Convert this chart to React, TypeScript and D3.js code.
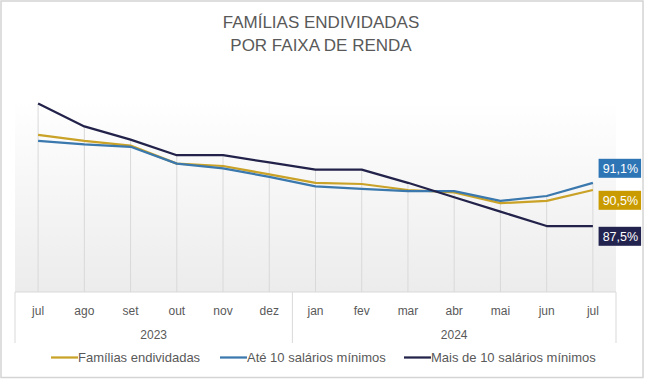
import React from "react";
import * as d3 from "d3";

const months = ["jul", "ago", "set", "out", "nov", "dez", "jan", "fev", "mar", "abr", "mai", "jun", "jul"];
const years = [
  { label: "2023", start: 0, end: 5 },
  { label: "2024", start: 6, end: 12 },
];
const familias = [95.1, 94.6, 94.2, 92.7, 92.5, 91.8, 91.1, 91.0, 90.5, 90.3, 89.4, 89.6, 90.5];
const ate10 = [94.6, 94.3, 94.1, 92.7, 92.3, 91.6, 90.8, 90.6, 90.4, 90.4, 89.6, 90.0, 91.1];
const mais10 = [97.7, 95.8, 94.7, 93.4, 93.4, 92.8, 92.2, 92.2, 91.1, 89.9, 88.7, 87.5, 87.5];

const seriesNames = ["Famílias endividadas", "Até 10 salários mínimos", "Mais de 10 salários mínimos"];
const seriesColors = ["#c9a227", "#3a78ad", "#22224a"];
const labelColors = ["#c99b00", "#2e75b6", "#232350"];
const labelOffsets = [0.8, -24, 0.8];

const W = 645;
const H = 379;
const FONT = "'Liberation Sans', Arial, sans-serif";
const TEXT = "#595959";
const GRID = "#d9d9d9";

export default function App() {
  const data = [familias, ate10, mais10];
  const x = d3.scaleBand<number>().domain(d3.range(months.length)).range([15, 616]).padding(0);
  const cx = (i: number) => (x(i) as number) + x.bandwidth() / 2;
  const y = d3.scaleLinear().domain([82, 98]).range([292, 100]);
  const line = d3
    .line<number>()
    .x((_, i) => cx(i))
    .y((d) => y(d));
  const plotTop = y.range()[1];
  const plotBottom = y.range()[0];
  const [x0, x1] = x.range();
  const sepX = x(years[1].start) as number;

  const legendItems = [
    { lx: 51, tx: 78 },
    { lx: 220, tx: 247 },
    { lx: 404, tx: 431 },
  ];

  return (
    <svg
      width={W}
      height={H}
      style={{ position: "fixed", left: 0, top: 0, background: "#fff" }}
      fontFamily={FONT}
    >
      <defs>
        <linearGradient id="plotGrad" x1="0" y1="0" x2="0" y2="1">
          <stop offset="0%" stopColor="#ffffff" />
          <stop offset="100%" stopColor="#ececec" />
        </linearGradient>
      </defs>
      <rect x={0} y={0} width={W} height={H} fill="#fff" />
      <rect x={1} y={1} width={642} height={376.5} fill="none" stroke="#d4d4d4" strokeWidth={1.5} />

      <text x={321} y={28.3} textAnchor="middle" fontSize={17} fill={TEXT}>
        FAMÍLIAS ENDIVIDADAS
      </text>
      <text x={321} y={50.7} textAnchor="middle" fontSize={17} fill={TEXT}>
        POR FAIXA DE RENDA
      </text>

      <rect x={x0} y={plotTop} width={x1 - x0} height={plotBottom - plotTop} fill="url(#plotGrad)" />

      {months.map((_, i) => {
        const top = d3.max(data, (s) => s[i]) as number;
        return (
          <line key={"drop" + i} x1={cx(i)} x2={cx(i)} y1={y(top)} y2={plotBottom} stroke={GRID} strokeWidth={1} />
        );
      })}

      {data.map((s, k) => (
        <path key={"s" + k} d={line(s) as string} fill="none" stroke={seriesColors[k]} strokeWidth={2.25} strokeLinejoin="round" />
      ))}

      <line x1={x0} x2={x1} y1={plotBottom} y2={plotBottom} stroke={GRID} strokeWidth={1} />
      {[x0, sepX, x1].map((vx, i) => (
        <line key={"sep" + i} x1={vx} x2={vx} y1={plotBottom} y2={343} stroke={GRID} strokeWidth={1} />
      ))}

      {months.map((m, i) => (
        <text key={"m" + i} x={cx(i)} y={315} textAnchor="middle" fontSize={12} fill={TEXT}>
          {m}
        </text>
      ))}
      {years.map((yr) => (
        <text
          key={yr.label}
          x={((x(yr.start) as number) + (x(yr.end) as number) + x.bandwidth()) / 2}
          y={338.5}
          textAnchor="middle"
          fontSize={12}
          fill={TEXT}
        >
          {yr.label}
        </text>
      ))}

      {data.map((s, k) => {
        const last = s.length - 1;
        const py = y(s[last]) + labelOffsets[k];
        const bx = cx(last) + 5.7;
        return (
          <g key={"lab" + k}>
            <rect x={bx} y={py} width={42.5} height={19} fill={labelColors[k]} />
            <text x={bx + 39.5} y={py + 14} textAnchor="end" fontSize={12.5} fill="#fff">
              {s[last].toFixed(1).replace(".", ",") + "%"}
            </text>
          </g>
        );
      })}

      {seriesNames.map((n, k) => (
        <g key={"leg" + k}>
          <line x1={legendItems[k].lx} x2={legendItems[k].tx} y1={357.5} y2={357.5} stroke={seriesColors[k]} strokeWidth={2.25} />
          <text x={legendItems[k].tx} y={362} fontSize={13} fill={TEXT}>
            {n}
          </text>
        </g>
      ))}
    </svg>
  );
}
